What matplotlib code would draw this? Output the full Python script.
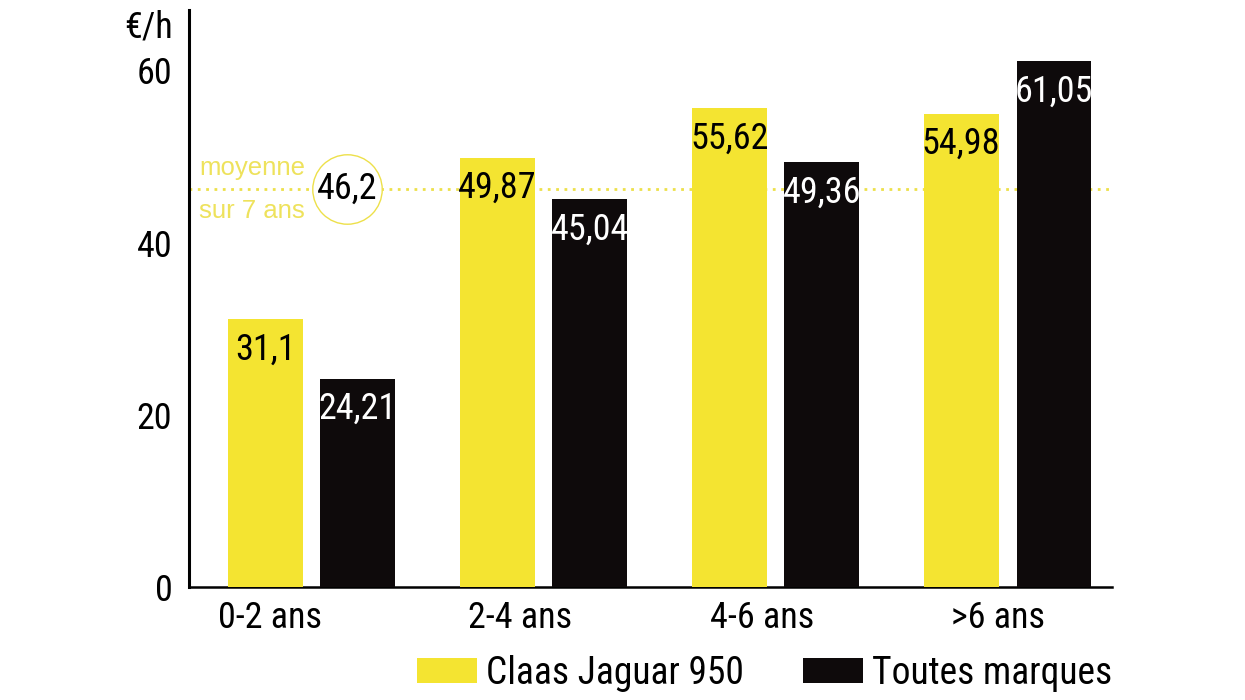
import matplotlib
matplotlib.use("Agg")
import matplotlib.pyplot as plt
import numpy as np
from matplotlib.patches import Patch

categories = ["0-2 ans", "2-4 ans", "4-6 ans", ">6 ans"]
claas = [31.1, 49.87, 55.62, 54.98]
toutes = [24.21, 45.04, 49.36, 61.05]
claas_labels = ["31,1", "49,87", "55,62", "54,98"]
toutes_labels = ["24,21", "45,04", "49,36", "61,05"]
moyenne = 46.2
moyenne_label = "46,2"
series_names = ["Claas Jaguar 950", "Toutes marques"]
yticks = [0, 20, 40, 60]

YELLOW = "#F4E431"
BLACK = "#0E0A0B"
LINE_YELLOW = "#EDE04A"
TEXT_YELLOW = "#EEE25C"

COND = ['Roboto Condensed', 'DejaVu Sans']
REG = ['Liberation Sans', 'DejaVu Sans']
plt.rcParams['font.family'] = COND

fig = plt.figure(figsize=(12.45, 7.0), dpi=100)
ax = fig.add_axes([189/1245, 1-587/700, (1112-189)/1245, (587-10)/700])

x = np.arange(len(categories))
w = 0.323
off = 0.2
ax.bar(x - off, claas, w, color=YELLOW, zorder=3)
ax.bar(x + off, toutes, w, color=BLACK, zorder=3)

FS = 26
for xi, v, lab in zip(x, claas, claas_labels):
    ax.annotate(lab, (xi - off, v), xytext=(0, -9), textcoords="offset points",
                ha="center", va="top", fontsize=FS, color="black", zorder=5)
for xi, v, lab in zip(x, toutes, toutes_labels):
    ax.annotate(lab, (xi + off, v), xytext=(0, -9), textcoords="offset points",
                ha="center", va="top", fontsize=FS, color="white", zorder=5)

# average line
ax.axhline(moyenne, color=LINE_YELLOW, lw=2, ls=(0, (1, 2)), zorder=2)
ax.plot([0.153], [moyenne], marker="o", markersize=50, markerfacecolor="white",
        markeredgecolor=LINE_YELLOW, markeredgewidth=1, zorder=4)
ax.text(0.153, moyenne, moyenne_label, ha="center", va="center", fontsize=FS,
        color="black", zorder=5)
ax.annotate("moyenne", (-0.256, moyenne), xytext=(0, 15), textcoords="offset points",
            ha="center", va="center", fontsize=18.5, color=TEXT_YELLOW, family=REG)
ax.annotate("sur 7 ans", (-0.256, moyenne), xytext=(0, -16), textcoords="offset points",
            ha="center", va="center", fontsize=18.5, color=TEXT_YELLOW, family=REG)

ax.set_xlim(-0.528, 3.45)
ax.set_ylim(0, 67)
ax.set_yticks(yticks)
ax.set_yticklabels([str(t) for t in yticks])
label_nudge = np.array([0.18, 0.10, 0.06, 0.04])
ax.set_xticks(x - label_nudge)
ax.set_xticklabels(categories)
ax.tick_params(axis="both", length=0, labelsize=FS)
ax.tick_params(axis="y", pad=12)
ax.tick_params(axis="x", pad=9)
for s in ["top", "right"]:
    ax.spines[s].set_visible(False)
ax.spines["left"].set_linewidth(2.2)
ax.spines["bottom"].set_linewidth(1.8)

ax.text(-0.0173, (587-27)/577, "€/h", transform=ax.transAxes, ha="right", va="center", fontsize=FS)

handles = [Patch(facecolor=YELLOW), Patch(facecolor=BLACK)]
fig.legend(handles, series_names, loc="upper right",
           bbox_to_anchor=(1112/1245, 1-655/700), ncol=2, frameon=False,
           fontsize=27, handlelength=1.6, handleheight=0.65, handletextpad=0.25,
           columnspacing=1.55, borderpad=0, borderaxespad=0)

fig.savefig("out.png", dpi=100)
